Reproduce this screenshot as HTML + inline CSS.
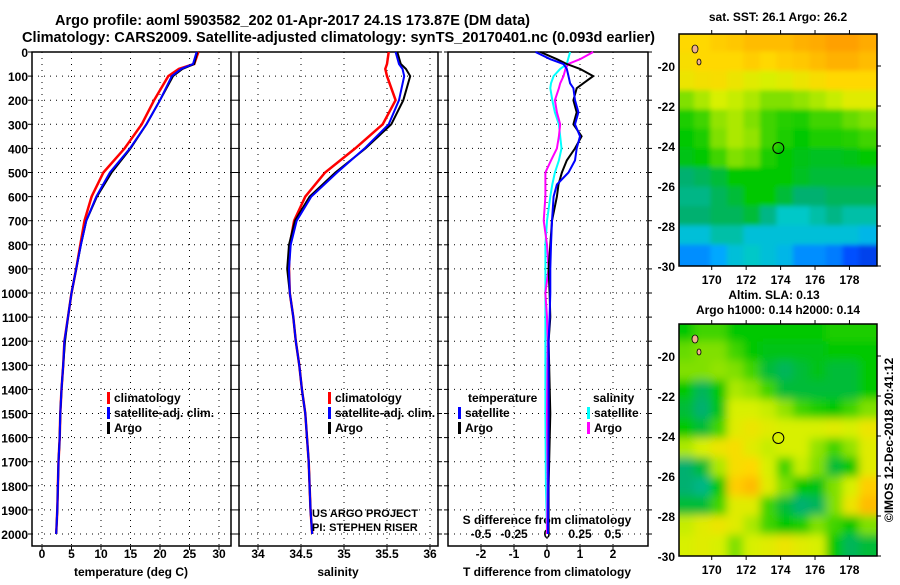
<!DOCTYPE html>
<html><head><meta charset="utf-8">
<style>
html,body{margin:0;padding:0;background:#fff;}
body{width:900px;height:580px;overflow:hidden;font-family:"Liberation Sans",sans-serif;}
svg text{font-family:"Liberation Sans",sans-serif;font-weight:bold;fill:#000;}
</style></head><body>
<svg id="c" width="900" height="580" xmlns="http://www.w3.org/2000/svg">
<defs>
<filter id="blurS" x="-0.2" y="-0.2" width="1.4" height="1.4"><feGaussianBlur stdDeviation="2.5"/></filter>
<filter id="blurL" x="-0.2" y="-0.2" width="1.4" height="1.4"><feGaussianBlur stdDeviation="4.5"/></filter>
<clipPath id="clipTop"><rect x="679" y="34" width="198" height="232"/></clipPath>
<clipPath id="clipBot"><rect x="679" y="324" width="198" height="232"/></clipPath>
</defs>
<text x="55" y="25" font-size="14.5" textLength="475" lengthAdjust="spacingAndGlyphs">Argo profile: aoml 5903582_202 01-Apr-2017 24.1S 173.87E (DM data)</text>
<text x="22" y="42" font-size="14.5" textLength="633" lengthAdjust="spacingAndGlyphs">Climatology: CARS2009. Satellite-adjusted climatology: synTS_20170401.nc (0.093d earlier)</text>
<g id="g"></g>
</svg>
<script>
// ---- data ----
const depths = [0,50,70,100,200,300,400,500,600,700,800,900,1000,1100,1200,1300,1400,1500,1600,1700,1800,1900,2000];
const tempArgo = [26.3,25.8,23.8,22.2,20.0,17.7,15.0,11.8,9.3,7.5,6.6,5.8,5.0,4.4,3.9,3.6,3.3,3.1,3.0,2.8,2.7,2.6,2.4];
const tempSat  = [26.2,25.6,23.6,22.0,20.0,17.7,14.9,11.5,9.2,7.5,6.6,5.8,5.0,4.4,3.8,3.6,3.3,3.1,3.0,2.8,2.7,2.6,2.4];
const tempClim = [26.5,25.8,23.2,21.4,19.0,16.9,14.0,10.4,8.4,7.2,6.5,5.8,5.0,4.4,3.8,3.6,3.3,3.1,3.0,2.8,2.7,2.6,2.4];
const salArgo = [35.62,35.66,35.72,35.77,35.69,35.55,35.25,34.90,34.60,34.43,34.36,34.34,34.37,34.41,34.44,34.48,34.51,34.55,34.57,34.59,34.60,34.61,34.63];
const salSat  = [35.60,35.64,35.68,35.70,35.64,35.52,35.24,34.92,34.62,34.45,34.38,34.36,34.37,34.41,34.44,34.48,34.51,34.55,34.57,34.59,34.60,34.61,34.63];
const salClim = [35.52,35.50,35.48,35.50,35.60,35.45,35.13,34.78,34.55,34.42,34.37,34.36,34.37,34.41,34.44,34.48,34.51,34.55,34.57,34.59,34.60,34.61,34.63];
const dDepths = [0,30,50,70,100,130,150,200,250,300,350,400,450,500,550,600,700,800,900,1000,1100,1200,1500,1800,2000];
const dTArgo = [-0.2,0.3,0.6,1.0,1.4,1.1,0.9,0.8,0.9,0.8,1.05,0.85,0.6,0.45,0.35,0.3,0.15,0.1,0.05,0.08,0.1,0.05,0.1,0.05,0.05];
const dTSat  = [-0.35,0.1,0.5,0.6,0.65,0.7,0.8,0.85,0.95,0.85,1.0,0.9,0.85,0.65,0.3,0.2,0.15,0.12,0.1,0.1,0.08,0.05,0.05,0.04,0.03];
const dSArgo = [0.35,0.25,0.16,0.14,0.125,0.1,0.09,0.06,0.075,0.1,0.09,0.075,0.03,-0.012,-0.012,-0.012,-0.025,0,0.012,-0.012,0,0.005,0,0.005,0];
const dSSat  = [0.175,0.16,0.15,0.1,0.05,0.03,0.025,0.04,0.06,0.09,0.1,0.11,0.09,0.06,0.04,0.025,0,-0.012,-0.012,-0.012,-0.012,-0.012,-0.012,-0.008,0];
const depthTicks = [0,100,200,300,400,500,600,700,800,900,1000,1100,1200,1300,1400,1500,1600,1700,1800,1900,2000];
const tTicks = [0,5,10,15,20,25,30];
const sTicks = [34,34.5,35,35.5,36];
const tdTicks = [-2,-1,0,1,2];
const sdTicks = [-0.5,-0.25,0,0.25,0.5];
const sdLabels = ["-0.5","-0.25","0","0.25","0.5"];
const latTicks = [-20,-22,-24,-26,-28,-30];
const lonTicks = [170,172,174,176,178];
const sstGrid = [
[.8,.8,.82,.83,.85,.85,.85,.87,.88,.9,.9,.88],
[.78,.8,.8,.8,.82,.8,.82,.83,.85,.87,.87,.85],
[.75,.77,.78,.75,.72,.7,.72,.75,.78,.8,.8,.8],
[.6,.65,.7,.68,.65,.6,.6,.62,.65,.68,.72,.72],
[.52,.55,.62,.65,.6,.55,.53,.52,.55,.55,.58,.6],
[.5,.52,.6,.65,.62,.55,.52,.5,.52,.52,.53,.55],
[.48,.5,.55,.6,.58,.52,.5,.48,.47,.47,.48,.5],
[.4,.42,.45,.5,.5,.5,.5,.47,.45,.45,.45,.45],
[.38,.38,.42,.45,.5,.5,.45,.4,.4,.42,.42,.42],
[.4,.4,.42,.42,.45,.38,.32,.32,.35,.38,.35,.35],
[.3,.3,.35,.35,.3,.3,.3,.3,.3,.3,.3,.28],
[.22,.22,.25,.3,.32,.3,.28,.22,.22,.2,.15,.12]];
const slaGrid = [
[.5,.55,.55,.5,.5,.5,.5,.5,.5,.52,.52,.52],
[.58,.6,.6,.55,.5,.48,.48,.48,.48,.5,.5,.5],
[.6,.6,.62,.6,.55,.45,.42,.45,.48,.45,.45,.5],
[.5,.42,.5,.65,.62,.55,.45,.45,.45,.45,.45,.5],
[.45,.4,.48,.7,.7,.68,.62,.55,.52,.5,.55,.6],
[.5,.45,.55,.72,.75,.72,.7,.7,.7,.72,.7,.75],
[.65,.7,.75,.78,.72,.68,.7,.7,.62,.55,.62,.72],
[.4,.45,.65,.78,.8,.7,.55,.68,.6,.45,.5,.72],
[.4,.38,.5,.82,.85,.72,.6,.5,.48,.6,.7,.82],
[.45,.45,.55,.72,.72,.55,.45,.4,.42,.6,.75,.85],
[.68,.72,.75,.72,.65,.55,.5,.52,.6,.55,.5,.6],
[.7,.72,.7,.6,.7,.72,.75,.72,.7,.5,.42,.45]];
const argoLon = 173.87, argoLat = -24.1;

// ---- helpers ----
const NS="http://www.w3.org/2000/svg";
const G=document.getElementById('g');
function mk(tag,attrs,parent){const e=document.createElementNS(NS,tag);for(const k in attrs)e.setAttribute(k,attrs[k]);(parent||G).appendChild(e);return e;}
function txt(x,y,s,size,anchor,parent){const t=mk('text',{x:x,y:y,'font-size':size,'text-anchor':anchor||'start'},parent);t.textContent=s;return t;}
const Y0=52, Y1=546;
const yD = d => Y0 + d*0.241;
const panels=[{x0:32,x1:231},{x0:239,x1:438},{x0:448,x1:648}];
const xT = v => 42 + v*(177/30);
const xS = v => 258 + (v-34)*86;
const xTd = v => 547 + v*33;
const xSd = v => 547 + v*132;

function frame(p,name){
  const r=mk('rect',{x:p.x0,y:Y0,width:p.x1-p.x0,height:Y1-Y0,fill:'none',stroke:'#000','stroke-width':1.5});
  
  
  depthTicks.forEach(d=>{
    mk('line',{x1:p.x0,x2:p.x1,y1:yD(d),y2:yD(d),stroke:'#000','stroke-width':1,'stroke-dasharray':'1,5'});
    mk('line',{x1:p.x0-4,x2:p.x0,y1:yD(d),y2:yD(d),stroke:'#000'});
    mk('line',{x1:p.x1,x2:p.x1+4,y1:yD(d),y2:yD(d),stroke:'#000'});
  });
}
function vgrid(p,vals,f){vals.forEach(v=>{mk('line',{x1:f(v),x2:f(v),y1:Y0,y2:Y1,stroke:'#000','stroke-width':1,'stroke-dasharray':'1,5'});mk('line',{x1:f(v),x2:f(v),y1:Y1,y2:Y1+4,stroke:'#000'});});}
function line(xs,ds,fx,color,name,w){
  const pts=xs.map((v,i)=>fx(v).toFixed(1)+','+yD(ds[i]).toFixed(1)).join(' ');
  const pl=mk('polyline',{points:pts,fill:'none',stroke:color,'stroke-width':w||2});
  
  
}
function legend(x,y,items,parent){
  items.forEach((it,i)=>{
    const r=mk('rect',{x:x,y:y+i*15-10,width:3,height:12,fill:it[1]});
    
    
    const t=txt(x+7,y+i*15,it[0],12);
    
    
  });
}

depthTicks.forEach(d=>{const t=txt(28,yD(d)+5,String(d),12,'end');});

// panel 1
frame(panels[0],'temperature-panel');
vgrid(panels[0],tTicks,xT);
tTicks.forEach(v=>{const t=txt(xT(v),558,String(v),12,'middle');});
line(tempClim,depths,xT,'#f00','temperature-climatology-line',2.5);
line(tempArgo,depths,xT,'#000','temperature-argo-line',2);
line(tempSat,depths,xT,'#00f','temperature-satellite-line',2);
legend(107,402,[['climatology','#f00','climatology'],['satellite-adj. clim.','#00f','satellite'],['Argo','#000','argo']]);
let t1=txt(131,576,'temperature (deg C)',12,'middle');

// panel 2
frame(panels[1],'salinity-panel');
vgrid(panels[1],sTicks,xS);
sTicks.forEach(v=>{const t=txt(xS(v),558,String(v),12,'middle');});
line(salClim,depths,xS,'#f00','salinity-climatology-line',2.5);
line(salArgo,depths,xS,'#000','salinity-argo-line',2);
line(salSat,depths,xS,'#00f','salinity-satellite-line',2);
legend(328,402,[['climatology','#f00','climatology-s'],['satellite-adj. clim.','#00f','satellite-s'],['Argo','#000','argo-s']]);
let t2=txt(338,576,'salinity',12,'middle');
let c1=txt(312,517,'US ARGO PROJECT',11);c1.setAttribute('font-weight','normal');
let c2=txt(312,531,'PI: STEPHEN RISER',11);c2.setAttribute('font-weight','normal');

// panel 3
frame(panels[2],'difference-panel');
vgrid(panels[2],tdTicks,xTd);
tdTicks.forEach(v=>{const t=txt(xTd(v),558,String(v),12,'middle');});
sdTicks.forEach((v,i)=>{const t=txt(xSd(v),538,sdLabels[i],12,'middle');});
let t3=txt(547,524,'S difference from climatology',12,'middle');
line(dSSat,dDepths,xSd,'#0ff','salinity-satellite-diff-line',2);
line(dSArgo,dDepths,xSd,'#f0f','salinity-argo-diff-line',2);
line(dTArgo,dDepths,xTd,'#000','temperature-argo-diff-line',2);
line(dTSat,dDepths,xTd,'#00f','temperature-satellite-diff-line',2);
let lt=txt(468,402,'temperature',12);
let ls=txt(593,402,'salinity',12);
legend(458,417,[['satellite','#00f','t-satellite'],['Argo','#000','t-argo']]);
legend(587,417,[['satellite','#0ff','s-satellite'],['Argo','#f0f','s-argo']]);
let t4=txt(547,576,'T difference from climatology',12,'middle');

// ---- maps ----
const stops=[[0,[0,16,160]],[.15,[0,80,255]],[.25,[0,168,255]],[.32,[0,200,200]],[.4,[0,176,112]],[.5,[0,200,0]],[.6,[128,224,0]],[.7,[216,240,0]],[.8,[255,216,0]],[.9,[255,160,0]],[1,[255,96,0]]];
function cmap(v){for(let i=1;i<stops.length;i++){if(v<=stops[i][0]){const a=stops[i-1],b=stops[i],f=(v-a[0])/(b[0]-a[0]);return 'rgb('+a[1].map((c,k)=>Math.round(c+(b[1][k]-c)*f)).join(',')+')';}}return 'rgb(255,96,0)';}
const MX0=679,MX1=877,lon0=168.1,lon1=179.6;
const xLon=l=>MX0+(l-lon0)*(MX1-MX0)/(lon1-lon0);
function drawMap(grid,top,clip,blur,name,title1,title2){
  const yLat=l=>top+(-18.4-l)*(232/11.6);
  const g=mk('g',{'clip-path':'url(#'+clip+')'});
  
  
  const inner=mk('g',{filter:'url(#'+blur+')'},g);
  const rows=grid.length, cols=grid[0].length, cw=(MX1-MX0)/cols, ch=232/rows;
  const pad=20;
  grid.forEach((row,r)=>row.forEach((v,c)=>{
    let x0=MX0+c*cw-cw*0.1, x1=MX0+(c+1)*cw+cw*0.1, y0=top+r*ch-ch*0.1, y1=top+(r+1)*ch+ch*0.1;
    if(c===0)x0-=pad; if(c===cols-1)x1+=pad; if(r===0)y0-=pad; if(r===rows-1)y1+=pad;
    const cell=mk('rect',{x:x0.toFixed(1),y:y0.toFixed(1),width:(x1-x0).toFixed(1),height:(y1-y0).toFixed(1),fill:cmap(v)},inner);
    
    
  }));
  mk('rect',{x:MX0,y:top,width:MX1-MX0,height:232,fill:'none',stroke:'#000','stroke-width':1.5});
  latTicks.forEach(l=>{mk('line',{x1:MX1,x2:MX1+4,y1:yLat(l),y2:yLat(l),stroke:'#000'});const t=txt(MX0-4,yLat(l)+5,String(l),12,'end');});
  lonTicks.forEach(l=>{mk('line',{x1:xLon(l),x2:xLon(l),y1:top+232,y2:top+236,stroke:'#000'});mk('line',{x1:xLon(l),x2:xLon(l),y1:top-4,y2:top,stroke:'#000'});const t=txt(xLon(l),top+250,String(l),12,'middle');});
  const m=mk('circle',{cx:xLon(argoLon),cy:yLat(argoLat),r:5.5,fill:'none',stroke:'#000','stroke-width':1});
  
  
  mk('ellipse',{cx:695,cy:top+15,rx:3,ry:4,fill:'#f0b090',stroke:'#000','stroke-width':0.8});
  mk('ellipse',{cx:699,cy:top+28,rx:2,ry:3,fill:'#f0b090',stroke:'#000','stroke-width':0.8});
  if(title1){const a=txt(778,top-13,title1,12,'middle');}
  if(title2){const a=txt(774,top-25,title2[0],12,'middle');const b=txt(778,top-10,title2[1],12,'middle');}
}
drawMap(sstGrid,34,'clipTop','blurS','sst-map','sat. SST: 26.1  Argo: 26.2',null);
drawMap(slaGrid,324,'clipBot','blurL','sla-map',null,['Altim. SLA: 0.13','Argo h1000: 0.14 h2000: 0.14']);
const stamp=txt(0,0,'©IMOS 12-Dec-2018 20:41:12',12,'middle');
stamp.setAttribute('font-weight','normal');
stamp.setAttribute('transform','translate(893,440) rotate(-90)');


</script>
</body></html>
